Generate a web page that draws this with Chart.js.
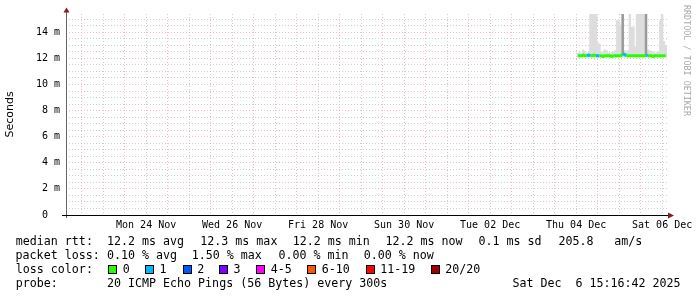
<!DOCTYPE html>
<html>
<head>
<meta charset="utf-8">
<script src="https://cdn.jsdelivr.net/npm/chart.js@4.4.1/dist/chart.umd.min.js"></script>
<style>
body{margin:0;background:#fff;}
#wrap{position:relative;width:697px;height:297px;overflow:hidden;background:#fff;}
.t{position:absolute;white-space:pre;font-family:'DejaVu Sans Mono',monospace;font-size:11.65px;line-height:14px;color:#000;}
.box{position:absolute;width:7px;height:7px;border:1px solid #000;}
#wm{position:absolute;left:682px;top:5px;writing-mode:vertical-rl;font-family:'DejaVu Sans Mono',monospace;font-size:8.4px;line-height:10px;color:#aaa;}
</style>
</head>
<body>
<div id="wrap">
<canvas id="smokeChart" width="697" height="297"></canvas>
<div id="legend"></div>
<div id="wm">RRDTOOL / TOBI OETIKER</div>
</div>
<script>
// time axis in days counted from Sat 22 Nov 00:00
const xStartDay = 0.6366;  // Sat 22 Nov 15:16:42
const xEndDay = 14.6366;   // Sat 06 Dec 15:16:42
const labelDays = [2.5, 4.5, 6.5, 8.5, 10.5, 12.5, 14.5];
const dayLabels = ['Mon 24 Nov', 'Wed 26 Nov', 'Fri 28 Nov', 'Sun 30 Nov', 'Tue 02 Dec', 'Thu 04 Dec', 'Sat 06 Dec'];
const yMaxMs = 15.4;
const yLabelMs = [2, 4, 6, 8, 10, 12, 14];

// one sample per hour, starting Thu 04 Dec 13:00
const firstSampleDay = 12 + 13 / 24;
const sampleHours = [0,1,2,3,4,5,6,7,8,9,10,11,12,13,14,15,16,17,18,19,20,21,22,23,24,
                     25,26,27,28,29,30,31,32,33,34,35,36,37,38,39,40,41,42,43,44,45,46,47,48,49];
const medianMs = [12.2,12.2,12.2,12.25,12.2,12.2,12.25,12.2,12.2,12.25,12.2,12.2,12.2,12.2,12.15,12.2,12.2,12.2,12.2,12.15,12.2,12.2,12.2,12.2,12.2,
                  12.35,12.3,12.2,12.2,12.2,12.2,12.2,12.2,12.2,12.2,12.2,12.2,12.2,12.25,12.2,12.2,12.2,12.15,12.2,12.2,12.2,12.2,12.2,12.2,12.2];
const lostPings = [0,0,0,0,0,1,1,0,0,0,1,1,0,0,0,0,0,0,0,0,0,0,0,0,0,
                   1,1,0,0,0,0,0,0,0,0,0,0,0,1,0,0,0,0,0,0,0,0,0,0,0];
const smokeLoMs = [12.1,12.1,12.1,12.1,12.1,12.1,12.1,12.1,12.1,12.1,12.1,12.1,12.1,12.1,12.1,12.1,12.1,12.1,12.1,12.1,12.1,12.1,12.1,12.1,12.1,
                   12.1,12.1,12.1,12.1,12.1,12.1,12.1,12.1,12.1,12.1,12.1,12.1,12.1,12.1,12.1,12.1,12.1,12.1,12.1,12.1,12.1,12.1,12.1,12.1,12.1];
const smokeHiMs = [12.4,12.45,12.4,12.65,12.5,12.4,12.45,16,16,16,16,13.2,13.1,12.5,12.45,12.65,12.6,12.45,12.4,12.45,12.5,12.6,14.9,14.8,14.55,
                   16,12.6,12.5,12.6,16,14.4,14.4,12.9,16,16,16,16,16,16,12.65,12.6,12.45,12.5,12.4,12.45,12.5,14.9,16,13.3,13.0];
const denseHiMs = [null,null,null,null,null,null,null,null,null,null,null,null,null,null,null,null,null,null,null,null,null,null,null,null,null,
                   16,null,null,null,null,null,null,null,null,null,null,null,null,16,null,null,null,null,null,null,null,null,null,null,null];

// loss colour buckets (lost pings out of 20)
const lossBucketMax = [0, 1, 2, 3, 5, 10, 19, 20];
const lossNames = ['0', '1', '2', '3', '4-5', '6-10', '11-19', '20/20'];
const lossColors = ['#26ff00', '#00b8ff', '#0059ff', '#7e00ff', '#ff00ff', '#ff5500', '#ff0000', '#a10000'];

const rttRow = ['median rtt:', '12.2 ms avg', '12.3 ms max', '12.2 ms min', '12.2 ms now', '0.1 ms sd', '205.8', 'am/s'];
const lossRow = ['packet loss:', '0.10 % avg', '1.50 % max', '0.00 % min', '0.00 % now'];
const probeRow = ['probe:', '20 ICMP Echo Pings (56 Bytes) every 300s', 'Sat Dec  6 15:16:42 2025'];

function lossColor(n) {
    for (let i = 0; i < lossBucketMax.length; i++) {
        if (n <= lossBucketMax[i]) return lossColors[i];
    }
    return lossColors[lossColors.length - 1];
}
const dayOf = i => firstSampleDay + sampleHours[i] / 24;

// legend text below the graph
const legend = document.getElementById('legend');
function addText(txt, x, y) {
    const d = document.createElement('div');
    d.className = 't';
    d.textContent = txt;
    d.style.left = x + 'px';
    d.style.top = y + 'px';
    legend.appendChild(d);
}
[15.8, 107, 200.3, 292.7, 385.4, 478.4, 558.4, 614.2].forEach((x, i) => addText(rttRow[i], x, 234.2));
[15.6, 107, 191.8, 278.4, 363.8].forEach((x, i) => addText(lossRow[i], x, 248.4));
addText('loss color:', 15.8, 262.2);
const boxX = [108.3, 145, 182.7, 219, 256.3, 307.3, 365.7, 430.7];
boxX.forEach((x, i) => {
    const b = document.createElement('div');
    b.className = 'box';
    b.style.left = x + 'px';
    b.style.top = '264.5px';
    b.style.background = lossColors[i];
    legend.appendChild(b);
    addText(lossNames[i], x + 14.5, 262.2);
});
[15.8, 107, 512.4].forEach((x, i) => addText(probeRow[i], x, 276));

const medianPoints = sampleHours.map((h, i) => ({x: dayOf(i), y: medianMs[i]}));
const smokePoints = sampleHours.map((h, i) => ({x: dayOf(i), y: [smokeLoMs[i], smokeHiMs[i]]}));
const densePoints = sampleHours.map((h, i) => denseHiMs[i] === null ? null : {x: dayOf(i), y: [medianMs[i], denseHiMs[i]]}).filter(p => p);

const redGrid = 'rgba(226,150,150,0.6)';
const grayGrid = 'rgba(185,185,185,0.7)';

const axisArrows = {
    id: 'axisArrows',
    afterDraw(chart) {
        const {ctx, chartArea: a} = chart;
        ctx.save();
        ctx.lineWidth = 1;
        ctx.strokeStyle = '#666';
        ctx.beginPath();
        ctx.moveTo(a.left + 0.5, a.bottom + 3);
        ctx.lineTo(a.left + 0.5, a.top - 2);
        ctx.stroke();
        ctx.strokeStyle = '#000';
        ctx.beginPath();
        ctx.moveTo(a.left - 4, a.bottom + 0.5);
        ctx.lineTo(a.right, a.bottom + 0.5);
        ctx.stroke();
        ctx.fillStyle = '#8b1a1a';
        ctx.beginPath();
        ctx.moveTo(a.left + 0.5, a.top - 6.5);
        ctx.lineTo(a.left - 2.5, a.top - 1.5);
        ctx.lineTo(a.left + 3.5, a.top - 1.5);
        ctx.closePath();
        ctx.fill();
        ctx.beginPath();
        ctx.moveTo(a.right + 6, a.bottom + 0.5);
        ctx.lineTo(a.right, a.bottom - 2.5);
        ctx.lineTo(a.right, a.bottom + 3.5);
        ctx.closePath();
        ctx.fill();
        ctx.restore();
    }
};

Chart.defaults.font.family = "'DejaVu Sans Mono', monospace";
Chart.defaults.font.size = 10;
Chart.defaults.color = '#000';

new Chart(document.getElementById('smokeChart'), {
    type: 'bar',
    data: {
        datasets: [
            {
                type: 'line',
                label: 'median rtt',
                data: medianPoints,
                borderWidth: 3,
                borderColor: lossColors[0],
                pointRadius: 0,
                borderCapStyle: 'butt',
                tension: 0,
                segment: {borderColor: c => lossColor(lostPings[c.p0DataIndex])}
            },
            {
                label: 'dense smoke',
                data: densePoints,
                backgroundColor: '#9a9a9a',
                grouped: false,
                barPercentage: 1,
                categoryPercentage: 1,
                borderWidth: 0,
                clip: 0
            },
            {
                label: 'smoke',
                data: smokePoints,
                backgroundColor: '#dddddd',
                grouped: false,
                barPercentage: 1,
                categoryPercentage: 1,
                borderWidth: 0,
                clip: 0
            }
        ]
    },
    options: {
        responsive: false,
        animation: false,
        layout: {padding: {top: 14, right: 29, bottom: 0, left: 0}},
        plugins: {legend: {display: false}, tooltip: {enabled: false}},
        scales: {
            x: {
                type: 'linear',
                min: xStartDay,
                max: xEndDay,
                offset: false,
                grid: {
                    offset: false,
                    drawTicks: false,
                    color: c => (c.tick && Number.isInteger(c.tick.value)) ? redGrid : grayGrid
                },
                border: {display: false, dash: [1, 2]},
                afterBuildTicks: s => {
                    const t = [];
                    for (let d = 1; d < xEndDay; d += 0.5) t.push({value: d});
                    s.ticks = t;
                },
                ticks: {
                    autoSkip: false,
                    maxRotation: 0,
                    padding: 4,
                    callback: v => {
                        const k = labelDays.indexOf(v);
                        return k >= 0 ? dayLabels[k] : '';
                    }
                },
                afterFit: s => { s.height = 82; s.paddingLeft = 0; s.paddingRight = 0; }
            },
            y: {
                type: 'linear',
                min: 0,
                max: yMaxMs,
                grid: {
                    drawTicks: false,
                    color: c => {
                        const v = c.tick ? c.tick.value : 0;
                        if (v === 0) return 'rgba(0,0,0,0)';
                        return yLabelMs.includes(v) ? redGrid : grayGrid;
                    }
                },
                border: {display: false, dash: [1, 2]},
                afterBuildTicks: s => {
                    const t = [];
                    for (let v = 0; v <= 15; v += 0.5) t.push({value: v});
                    s.ticks = t;
                },
                ticks: {
                    autoSkip: false,
                    padding: 6,
                    callback: v => v === 0 ? '0  ' : (yLabelMs.includes(v) ? v + ' m' : '')
                },
                title: {
                    display: true,
                    text: 'Seconds',
                    font: {family: "'DejaVu Sans', sans-serif", size: 11},
                    padding: {top: 4, bottom: 0}
                },
                afterFit: s => { s.width = 66; s.paddingTop = 0; s.paddingBottom = 0; }
            }
        }
    },
    plugins: [axisArrows]
});
</script>
</body>
</html>
